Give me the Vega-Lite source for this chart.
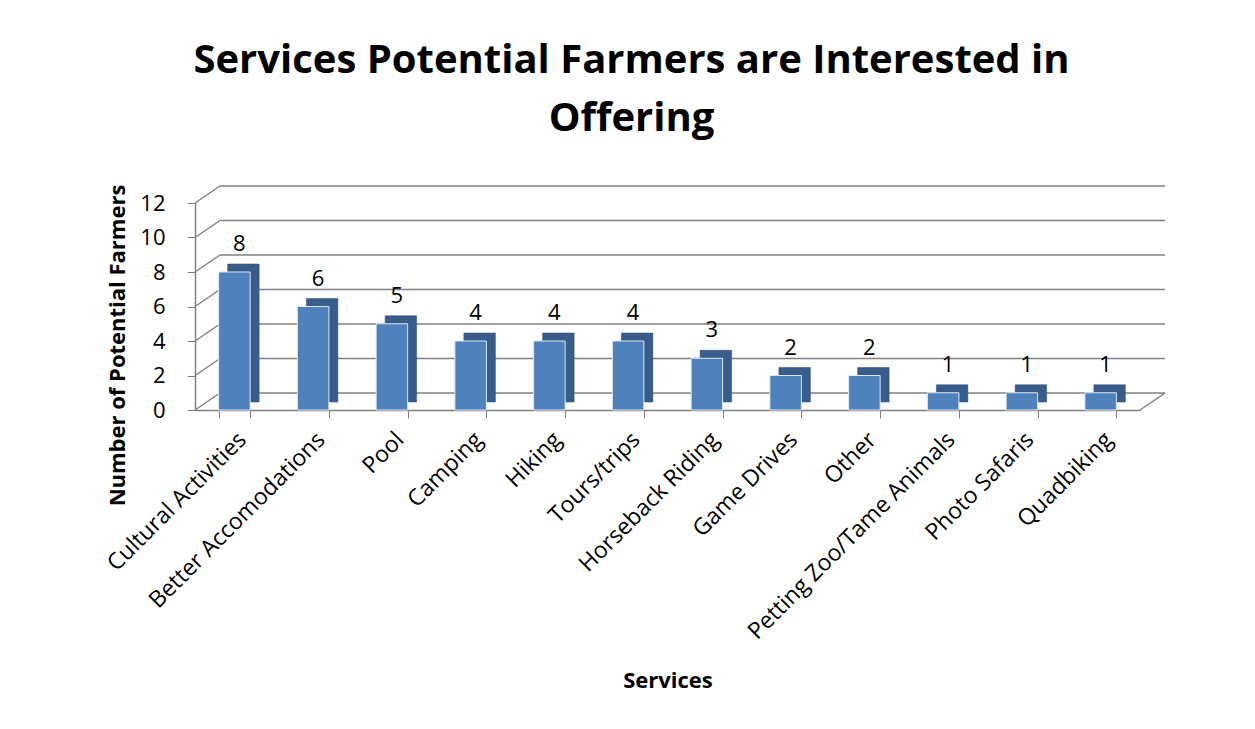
{
  "$schema": "https://vega.github.io/schema/vega-lite/v6.json",
  "width": 945,
  "height": 207,
  "autosize": {"type": "none"},
  "padding": {"left": 195, "top": 203, "right": 115, "bottom": 319},
  "background": "white",
  "title": {
    "text": ["Services Potential Farmers are Interested in", "Offering"],
    "font": "Open Sans",
    "fontSize": 40,
    "fontWeight": "bold",
    "color": "black",
    "lineHeight": 58,
    "anchor": "middle",
    "frame": "group",
    "dx": -36,
    "offset": 68,
    "baseline": "bottom",
    "dy": 63
  },
  "datasets": {
    "bars": [
      {"service": "Cultural Activities", "count": 8},
      {"service": "Better Accomodations", "count": 6},
      {"service": "Pool", "count": 5},
      {"service": "Camping", "count": 4},
      {"service": "Hiking", "count": 4},
      {"service": "Tours/trips", "count": 4},
      {"service": "Horseback Riding", "count": 3},
      {"service": "Game Drives", "count": 2},
      {"service": "Other", "count": 2},
      {"service": "Petting Zoo/Tame Animals", "count": 1},
      {"service": "Photo Safaris", "count": 1},
      {"service": "Quadbiking", "count": 1}
    ],
    "grid": [
      {"level": 0, "start": 0, "end": 1}, {"level": 2, "start": 0, "end": 1}, {"level": 4, "start": 0, "end": 1},
      {"level": 6, "start": 0, "end": 1}, {"level": 8, "start": 0, "end": 1}, {"level": 10, "start": 0, "end": 1},
      {"level": 12, "start": 0, "end": 1}
    ]
  },
  "resolve": {"scale": {"x": "independent"}, "axis": {"x": "independent"}},
  "layer": [
    {
      "data": {"name": "grid"},
      "layer": [
        {
          "mark": {"type": "rule", "color": "#808080", "strokeWidth": 1.5, "xOffset": 25, "x2Offset": 25, "yOffset": -17},
          "encoding": {
            "x": {"field": "start", "type": "quantitative", "scale": {"domain": [0, 1]}, "axis": null},
            "x2": {"field": "end"}
          }
        },
        {
          "mark": {"type": "rule", "color": "#808080", "strokeWidth": 1.5, "x2Offset": 25, "y2Offset": -17},
          "encoding": {
            "x": {"field": "start", "type": "quantitative", "scale": {"domain": [0, 1]}, "axis": null},
            "x2": {"field": "start"},
            "y2": {"field": "level"}
          }
        },
        {
          "transform": [{"filter": "datum.level == 0"}],
          "mark": {"type": "rule", "color": "#808080", "strokeWidth": 1.5, "x2Offset": 25, "y2Offset": -17},
          "encoding": {
            "x": {"field": "end", "type": "quantitative", "scale": {"domain": [0, 1]}, "axis": null},
            "x2": {"field": "end"},
            "y2": {"field": "level"}
          }
        }
      ],
      "encoding": {
        "y": {
          "field": "level",
          "type": "quantitative",
          "scale": {"domain": [0, 12]},
          "axis": {
            "title": "Number of Potential Farmers",
            "titleFont": "Open Sans",
            "titleFontSize": 22,
            "titleFontWeight": "bold",
            "titleColor": "black",
            "titlePadding": 10,
            "titleY": 142,
            "values": [0, 2, 4, 6, 8, 10, 12],
            "grid": false,
            "labelFont": "Open Sans",
            "labelFontSize": 22,
            "labelColor": "black",
            "labelPadding": 22,
            "domainColor": "#808080",
            "domainWidth": 1.5,
            "tickColor": "#808080",
            "tickSize": 8
          }
        }
      }
    },
    {
      "data": {"name": "bars"},
      "encoding": {
        "x": {
          "field": "service",
          "type": "nominal",
          "sort": null,
          "scale": {"paddingInner": 0.6, "paddingOuter": 0.3},
          "axis": {
            "title": "Services",
            "titleFont": "Open Sans",
            "titleFontSize": 22,
            "titleFontWeight": "bold",
            "titleColor": "black",
            "titlePadding": 60,
            "labelAngle": -45,
            "labelFont": "Open Sans",
            "labelFontSize": 23,
            "labelColor": "black",
            "labelAlign": "right",
            "labelBaseline": "top",
            "labelPadding": 10,
            "labelLimit": 0,
            "labelOverlap": false,
            "domainColor": "#808080",
            "domainWidth": 1.5,
            "tickColor": "#808080",
            "tickBand": "extent",
            "tickSize": 8
          }
        },
        "y": {
          "field": "count",
          "type": "quantitative",
          "scale": {"domain": [0, 12]},
          "axis": {
            "title": "Number of Potential Farmers",
            "titleFont": "Open Sans",
            "titleFontSize": 22,
            "titleFontWeight": "bold",
            "titleColor": "black",
            "titlePadding": 10,
            "titleY": 142,
            "values": [0, 2, 4, 6, 8, 10, 12],
            "grid": false,
            "labelFont": "Open Sans",
            "labelFontSize": 22,
            "labelColor": "black",
            "labelPadding": 22,
            "domainColor": "#808080",
            "domainWidth": 1.5,
            "tickColor": "#808080",
            "tickSize": 8
          }
        }
      },
      "layer": [
        {
          "mark": {"type": "bar", "color": "#385D8A", "xOffset": 9, "yOffset": -8, "stroke": "#2c4a70", "strokeWidth": 0.5}
        },
        {
          "mark": {"type": "bar", "color": "#4F81BD", "stroke": "#dfe8f3", "strokeWidth": 1}
        },
        {
          "mark": {"type": "text", "font": "Open Sans", "fontSize": 22, "color": "black", "dy": -16, "baseline": "bottom", "dx": 5},
          "encoding": {"text": {"field": "count", "type": "quantitative"}}
        }
      ]
    }
  ],
  "config": {
    "view": {"stroke": null}
  }
}
